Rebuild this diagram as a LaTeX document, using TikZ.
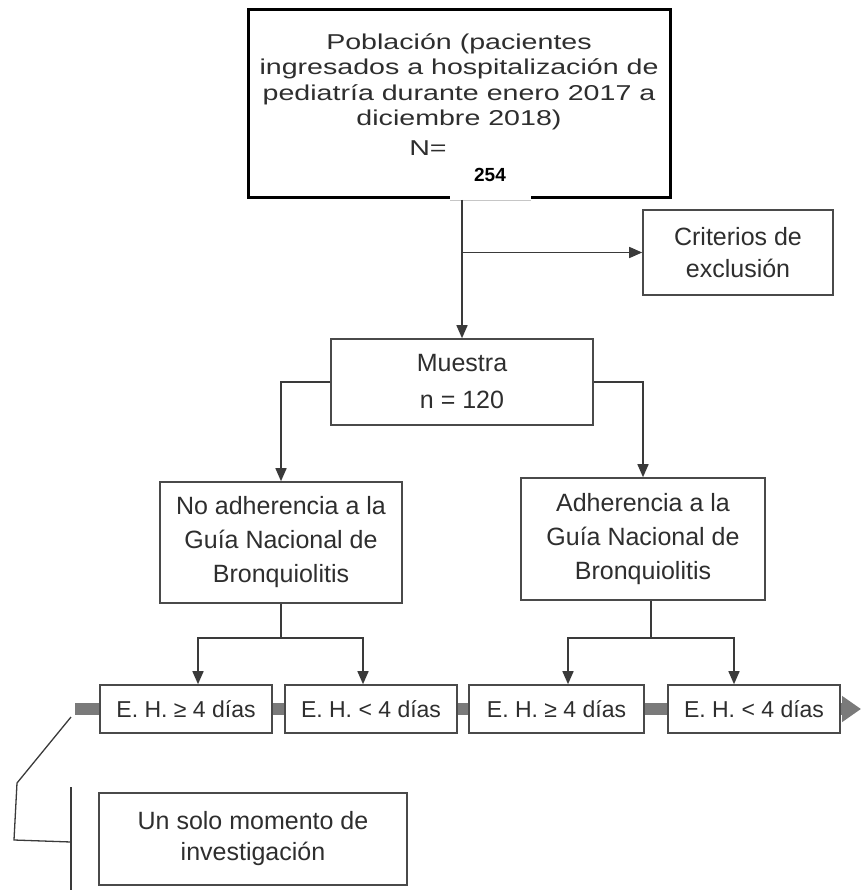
\documentclass[tikz,border=0pt]{standalone}
\usepackage{fontspec}
\setmainfont{Liberation Sans}
\newfontfamily\widefont[FakeStretch=1.33]{Liberation Sans}
\usetikzlibrary{arrows.meta}
\definecolor{txt}{HTML}{2E2E2E}
\definecolor{boxc}{HTML}{4A4A4A}
\definecolor{linec}{HTML}{3A3A3A}
\definecolor{barc}{HTML}{7A7A7A}
\begin{document}
\begin{tikzpicture}[x=1pt,y=-1pt,
  box/.style={draw=boxc, line width=1.6pt, fill=white, inner sep=0pt, text=txt, align=center, font=\fontsize{25}{34}\selectfont},
  smallbox/.style={box, font=\fontsize{23}{28}\selectfont, minimum height=48pt},
  conn/.style={draw=linec, line width=1.5pt},
  arr/.style={conn, -{Triangle[length=13pt,width=11pt]}},
]
\useasboundingbox (0,0) rectangle (863,890);

% top box
\node[draw=black, line width=3pt, fill=white, minimum width=422pt, minimum height=188pt, inner sep=0pt] (pop) at (459,104) {};
\node[text=txt, align=center, font=\widefont\fontsize{21.5}{25.5}\selectfont] (poptext) at (459,82) {Población (pacientes\\ingresados a hospitalización de\\pediatría durante enero 2017 a\\diciembre 2018)};
\node[text=txt, font=\widefont\fontsize{21.5}{25.5}\selectfont, inner sep=0pt] (neq) at (428,148) {N=};
\node[fill=white, minimum width=81pt, minimum height=38pt, inner sep=0pt] (patch) at (490.5,181) {};
\draw[gray!45, line width=0.6pt] (patch.south west) -- (patch.south east);
\node[font=\bfseries\fontsize{19}{19}\selectfont, inner sep=0pt] (num) at (490,175) {254};

% criterios
\node[box, minimum width=190pt, minimum height=85pt, font=\fontsize{25}{32}\selectfont] (crit) at (738,252.5) {Criterios de\\exclusión};

% muestra
\node[box, minimum width=262pt, minimum height=86pt, font=\fontsize{25}{37}\selectfont] (mu) at (462,382) {Muestra\\n = 120};

% adherence boxes
\node[box, minimum width=242pt, minimum height=121pt] (noad) at (281,542.5) {No adherencia a la\\Guía Nacional de\\Bronquiolitis};
\node[box, minimum width=244pt, minimum height=122pt] (ad) at (643,539) {Adherencia a la\\Guía Nacional de\\Bronquiolitis};

% connectors top
\draw[arr] (mu.north |- 0,200) -- (mu.north);
\draw[arr] (mu.north |- crit.west) -- (crit.west);
\draw[arr] (mu.west) -| (noad.north);
\draw[arr] (mu.east) -| (ad.north);

% timeline bar
\coordinate (bs) at (75,709);
\coordinate (be) at (861,709);
\draw[barc, line width=12pt, -{Triangle[length=19pt,width=25pt]}] (bs) -- (be);

% bottom boxes
\node[smallbox, minimum width=172pt] (b1) at (186,709) {E. H. ≥ 4 días};
\node[smallbox, minimum width=172pt] (b2) at (371,709) {E. H. < 4 días};
\node[smallbox, minimum width=175pt] (b3) at (556.5,709) {E. H. ≥ 4 días};
\node[smallbox, minimum width=172pt] (b4) at (754,709) {E. H. < 4 días};

% connectors bottom
\coordinate (j1) at (281,638);
\coordinate (j2) at (651,638);
\draw[conn] (noad.south) -- (j1);
\draw[arr] (j1) -| ([xshift=12pt]b1.north);
\draw[arr] (j1) -| ([xshift=-8pt]b2.north);
\draw[conn] ([xshift=8pt]ad.south) -- (j2);
\draw[arr] (j2) -| ([xshift=11.5pt]b3.north);
\draw[arr] (j2) -| ([xshift=-20pt]b4.north);

% bracket
\coordinate (k0) at (71,717);
\coordinate (k1) at (17,783);
\coordinate (k2) at (14,840);
\coordinate (k3) at (71,842);
\coordinate (v0) at (71,787);
\coordinate (v1) at (71,890);
\draw[conn, line width=1.3pt] (k0) -- (k1) -- (k2) -- (k3);
\draw[conn, line width=1.3pt] (v0) -- (v1);

% single moment box
\node[box, minimum width=308pt, minimum height=92pt, font=\fontsize{25}{31}\selectfont] (uno) at (253,839) {Un solo momento de\\investigación};
\end{tikzpicture}
\end{document}
